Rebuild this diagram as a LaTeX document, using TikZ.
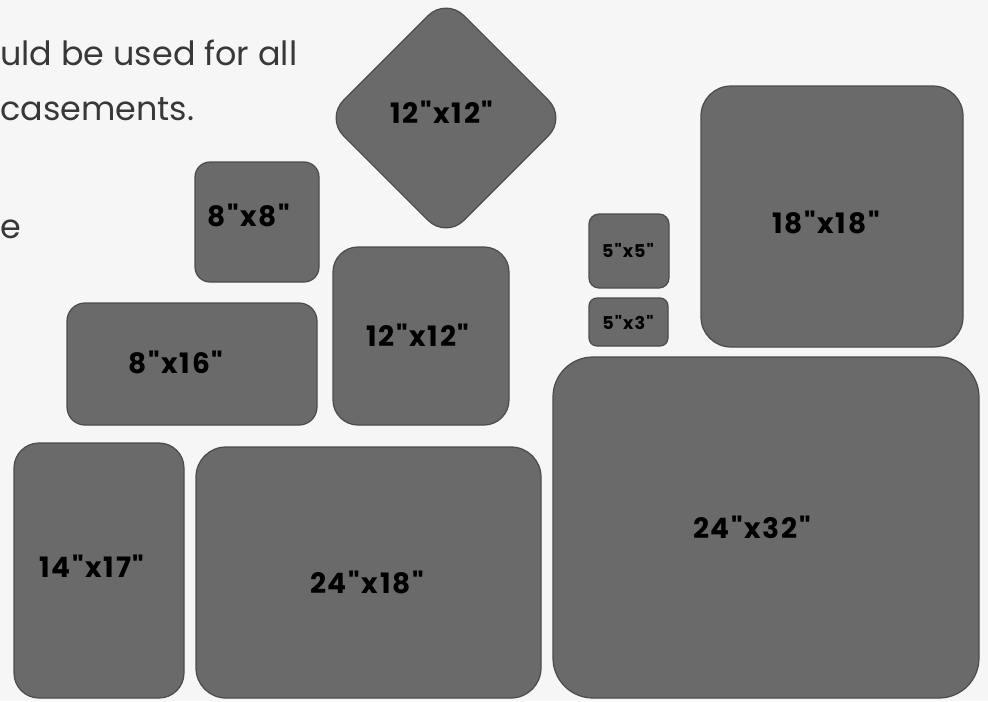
\documentclass[tikz,border=0pt]{standalone}
\usepackage{fontspec}
\setmainfont{Poppins}
\newfontfamily\sizefont{Poppins}[LetterSpace=6]

\definecolor{paper}{HTML}{F6F6F6}
\definecolor{platefill}{HTML}{6A6A6A}
\definecolor{plateedge}{HTML}{4C4C4C}
\definecolor{bodytext}{HTML}{383838}

\newcommand{\inch}{\char34\relax}

\begin{document}
\begin{tikzpicture}[
        x=0.02cm, y=-0.02cm,
        plate/.style={draw=plateedge, fill=platefill, line width=0.7pt, rounded corners=#1},
        plate/.default=0.5cm,
        size_label/.style={font=\sizefont\bfseries\fontsize{16}{19}\selectfont, text=black, inner sep=0pt},
        small_label/.style={size_label, font=\sizefont\bfseries\fontsize{10}{12}\selectfont},
        body_text/.style={font=\fontsize{19}{23}\selectfont, text=bodytext, anchor=base west, inner sep=0pt},
    ]

    % Page
    \fill[paper] (0,0) rectangle (988,701);
    \useasboundingbox (0,0) rectangle (988,701);

    % Text at the left, cut by the page edge
    \node[body_text] (line1) at (0,65) {uld be used for all};
    \node[body_text] (line2) at (0,120) {casements.};
    \node[body_text] (line3) at (0,238) {e};

    % Plates, upper part
    \draw[plate=0.3cm] (195,162) rectangle (319,282);                             % 8x8
    \draw[plate=0.5cm, rotate around={45:(446,118)}] (361,33) rectangle (531,203); % 12x12 on its corner
    \draw[plate=0.5cm] (333,247) rectangle (509,425);                             % 12x12
    \draw[plate=0.36cm] (67,303) rectangle (317,425);                             % 8x16
    \draw[plate=0.2cm] (589,214) rectangle (669,288);                             % 5x5
    \draw[plate=0.16cm] (589,298) rectangle (668,346);                            % 5x3
    \draw[plate=0.6cm] (701,86) rectangle (963,347);                              % 18x18

    % Plates, lower part
    \draw[plate=0.5cm] (14,443) rectangle (184,698);                              % 14x17
    \draw[plate=0.6cm] (196,447) rectangle (541,698);                             % 24x18
    \draw[plate=0.8cm] (553,357) rectangle (979,698);                             % 24x32

    % Sizes
    \node[size_label] (diamond) at (442,112) {12\inch x12\inch};
    \node[size_label] (eight) at (249,215) {8\inch x8\inch};
    \node[size_label] (twelve) at (418,335) {12\inch x12\inch};
    \node[size_label] (eightsixteen) at (176,362) {8\inch x16\inch};
    \node[small_label] (fivefive) at (628,250) {5\inch x5\inch};
    \node[small_label] (fivethree) at (628,323) {5\inch x3\inch};
    \node[size_label] (eighteen) at (826,222) {18\inch x18\inch};
    \node[size_label] (fourteen) at (92,566) {14\inch x17\inch};
    \node[size_label] (twentyfour) at (367,582) {24\inch x18\inch};
    \node[size_label] (thirtytwo) at (752,527) {24\inch x32\inch};

\end{tikzpicture}
\end{document}
